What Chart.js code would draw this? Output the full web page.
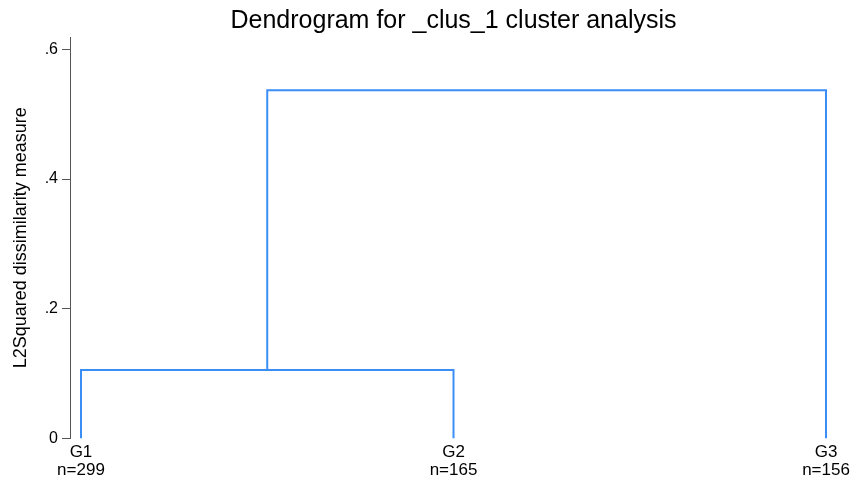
<!DOCTYPE html>
<html>
<head>
<meta charset="utf-8">
<script src="https://cdn.jsdelivr.net/npm/chart.js@4.4.0/dist/chart.umd.min.js"></script>
<style>
  html, body { margin: 0; padding: 0; background: #fff; }
  #wrap { width: 853px; height: 480px; }
</style>
</head>
<body>
<div id="wrap"><canvas id="dendro"></canvas></div>
<script>
// leaves in plot order
const leafLabels = ["G1", "G2", "G3"];
const leafCounts = [299, 165, 156];
const leafPos = [0, 1, 2];

// heights where clusters join
const mergeHeights = [0.1055, 0.537];
const yTicks = [0, 0.2, 0.4, 0.6];

const lineColor = "#3a8ef6";

// link = [left x, left height, right x, right height, merge height]
const center01 = (leafPos[0] + leafPos[1]) / 2;
const links = [
  [leafPos[0], 0, leafPos[1], 0, mergeHeights[0]],
  [center01, mergeHeights[0], leafPos[2], 0, mergeHeights[1]],
];

const datasets = links.map((l) => ({
  data: [
    { x: l[0], y: l[1] },
    { x: l[0], y: l[4] },
    { x: l[2], y: l[4] },
    { x: l[2], y: l[3] },
  ],
  borderColor: lineColor,
  borderWidth: 2,
  pointRadius: 0,
  showLine: true,
  tension: 0,
  fill: false,
}));

// center the title over the plot region, like Stata does
const titleOverPlot = {
  id: "titleOverPlot",
  afterLayout(chart) {
    const t = chart.titleBlock;
    if (!t) return;
    t.left = chart.chartArea.left;
    t.right = chart.chartArea.right;
    t.width = t.right - t.left;
  },
};

Chart.defaults.font.family = "'Liberation Sans', Arial, sans-serif";
Chart.defaults.color = "#000";

new Chart(document.getElementById("dendro"), {
  type: "scatter",
  data: { datasets: datasets },
  plugins: [titleOverPlot],
  options: {
    responsive: true,
    maintainAspectRatio: false,
    animation: false,
    layout: { padding: { left: 0, right: 16, top: 0, bottom: 0 } },
    plugins: {
      legend: { display: false },
      tooltip: { enabled: false },
      title: {
        display: true,
        text: "Dendrogram for _clus_1 cluster analysis",
        font: { size: 25, weight: "normal" },
        color: "#000",
        padding: { top: 6, bottom: 1 },
      },
    },
    scales: {
      x: {
        type: "linear",
        min: -0.0295,
        max: 2.0295,
        border: { display: false },
        grid: { display: false, drawTicks: false },
        afterBuildTicks: (scale) => {
          scale.ticks = leafPos.map((v) => ({ value: v }));
        },
        afterFit: (scale) => {
          scale.height = 41.5;
          scale.paddingLeft = 0;
          scale.paddingRight = 0;
        },
        ticks: {
          autoSkip: false,
          maxRotation: 0,
          padding: 5,
          font: { size: 17, lineHeight: 1.06 },
          callback: (v) => {
            const i = leafPos.indexOf(v);
            return i < 0 ? "" : [leafLabels[i], "n=" + leafCounts[i]];
          },
        },
      },
      y: {
        type: "linear",
        min: 0,
        max: 0.619,
        border: { display: true, color: "#555", width: 1 },
        grid: {
          display: true,
          drawOnChartArea: false,
          drawTicks: true,
          tickLength: 8,
          color: "#555",
        },
        afterBuildTicks: (scale) => {
          scale.ticks = yTicks.map((v) => ({ value: v }));
        },
        afterFit: (scale) => {
          scale.width = 70;
        },
        ticks: {
          padding: 4,
          font: { size: 16 },
          callback: (v) => (v === 0 ? "0" : String(v).replace(/^0/, "")),
        },
        title: {
          display: true,
          text: "L2Squared dissimilarity measure",
          font: { size: 18 },
          padding: { top: 10, bottom: 4 },
        },
      },
    },
  },
});
</script>
</body>
</html>
